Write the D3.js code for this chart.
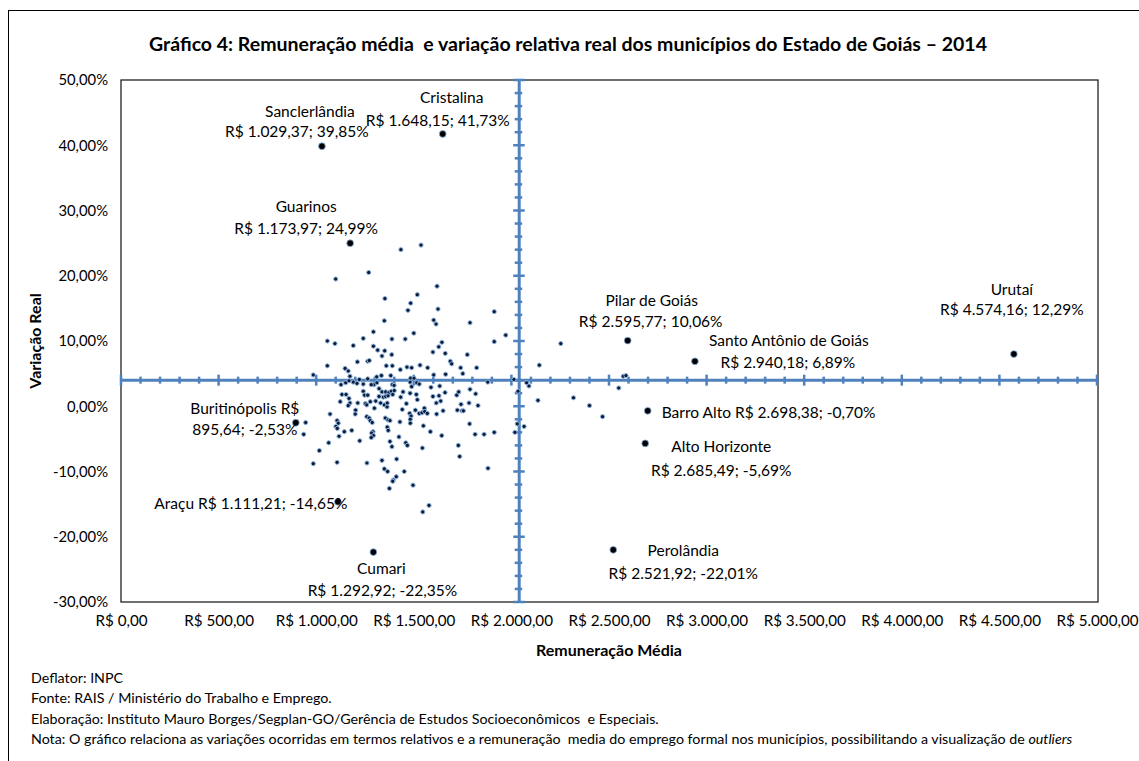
<!DOCTYPE html>
<html>
<head>
<meta charset="utf-8">
<script src="https://cdn.jsdelivr.net/npm/d3@7"></script>
<style>
  body { margin: 0; background: #fff; }
  svg text { font-family: Lato, "Open Sans", sans-serif; fill: #000; }
</style>
</head>
<body>
<script>
// municípios em destaque (com rótulo)
const destaqueNomes = ["Sanclerlândia", "Cristalina", "Guarinos", "Buritinópolis", "Araçu", "Cumari",
  "Pilar de Goiás", "Santo Antônio de Goiás", "Barro Alto", "Alto Horizonte", "Perolândia", "Urutaí"];
const destaqueRemun = [1029.37, 1648.15, 1173.97, 895.64, 1111.21, 1292.92,
  2595.77, 2940.18, 2698.38, 2685.49, 2521.92, 4574.16];
const destaqueVar = [39.85, 41.73, 24.99, -2.53, -14.65, -22.35,
  10.06, 6.89, -0.70, -5.69, -22.01, 8.0];
const destaqueRotulos = [
  ["Sanclerlândia", "R$ 1.029,37; 39,85%"],
  ["Cristalina", "R$ 1.648,15; 41,73%"],
  ["Guarinos", "R$ 1.173,97; 24,99%"],
  ["Buritinópolis R$", "895,64; -2,53%"],
  ["Araçu R$ 1.111,21; -14,65%"],
  ["Cumari", "R$ 1.292,92; -22,35%"],
  ["Pilar de Goiás", "R$ 2.595,77; 10,06%"],
  ["Santo Antônio de Goiás", "R$ 2.940,18; 6,89%"],
  ["Barro Alto R$ 2.698,38; -0,70%"],
  ["Alto Horizonte", "R$ 2.685,49; -5,69%"],
  ["Perolândia", "R$ 2.521,92; -22,01%"],
  ["Urutaí", "R$ 4.574,16; 12,29%"]
];

// demais municípios
const remun = [1269, 1100, 1293, 1057, 1096, 1190, 1241, 1293, 1315, 1057, 1148, 1211, 1264, 1272,
  1537, 1434, 1619, 1352, 1518, 1484, 1470, 1624, 1349, 1602, 1614, 1912, 1788, 1971, 1500, 1388,
  1456, 1644, 1912, 1628, 1351, 1337, 1387, 1598, 1661, 1774, 1687, 1694, 1359, 1390, 1532, 1465,
  1489, 1571, 1740, 1822, 1431, 985, 1164, 1173, 1221, 1264, 1310, 1127, 1151, 1168, 1190, 1209,
  1241, 1296, 1311, 1132, 1153, 1241, 1248, 1264, 1123, 1168, 1173, 1164, 1213, 1252, 1259, 1277,
  1305, 1298, 1202, 1200, 1259, 1271, 1277, 1287, 1071, 1107, 1113, 946, 936, 1101, 1108, 1144,
  1117, 1182, 1291, 1284, 1293, 1282, 1223, 1064, 1016, 985, 1107, 1260, 1334, 1382, 1484, 1501,
  1602, 1663, 1751, 1879, 2013, 1282, 1390, 1399, 1481, 1515, 1528, 1322, 1337, 1356, 1373, 1385,
  1400, 1445, 1481, 1489, 1588, 1633, 1660, 1720, 1730, 1788, 1817, 1322, 1344, 1356, 1368, 1392,
  1330, 1349, 1363, 1364, 1433, 1462, 1513, 1518, 1598, 1629, 1638, 1615, 1742, 1783, 1829, 1441,
  1479, 1486, 1482, 1508, 1528, 1542, 1554, 1556, 1569, 1617, 1650, 1723, 1747, 1754, 1354, 1368,
  1378, 1429, 1482, 1549, 1585, 1643, 1786, 1814, 1860, 1912, 1364, 1369, 1424, 1378, 1388, 1459,
  1467, 1544, 1728, 1735, 1412, 1337, 1349, 1366, 1451, 1880, 1410, 1395, 1392, 1375, 1496, 1578,
  1546, 2253, 2143, 2078, 2090, 2034, 2136, 2318, 2400, 2467, 2550, 2573, 2587, 2030, 2065, 2018];
const variacao = [20.5, 19.5, 11.4, 10.0, 9.6, 9.3, 10.4, 9.2, 8.6, 6.2, 5.8, 6.8, 6.9, 7.0,
  24.7, 24.0, 18.4, 16.5, 17.1, 15.8, 14.7, 14.9, 13.1, 13.2, 12.6, 14.5, 12.8, 10.9, 11.2, 10.3,
  10.3, 9.8, 9.9, 9.1, 8.5, 7.7, 7.9, 8.3, 8.1, 7.9, 6.9, 6.5, 6.2, 6.2, 6.3, 6.0,
  5.9, 5.9, 5.9, 5.9, 5.6, 4.8, 5.4, 4.6, 4.1, 4.2, 4.5, 3.3, 3.6, 3.9, 3.7, 3.5,
  3.4, 3.3, 3.6, 1.8, 1.8, 2.3, 1.7, 1.7, 0.7, 1.2, 0.5, 0.1, 0.5, 0.4, 0.2, 0.7,
  0.8, -0.3, -0.6, -1.2, -1.6, -1.8, -2.2, -2.5, -1.2, -2.2, -2.6, -2.5, -4.3, -3.1, -3.4, -3.9,
  -4.6, -3.7, -3.9, -4.1, -4.5, -4.8, -5.3, -5.6, -6.8, -8.8, -8.6, -8.7, 4.7, 4.7, 4.3, 4.3,
  4.8, 4.9, 5.0, 3.7, 4.1, 3.3, 3.3, 3.2, 3.7, 3.6, 3.4, 2.7, 2.2, 2.2, 2.1, 2.3,
  2.4, 2.2, 2.0, 3.0, 2.9, 3.1, 2.1, 1.7, 2.2, 2.6, 1.9, 1.5, 1.4, 1.5, 1.6, 1.8,
  0.5, 0.2, -0.1, 0.5, 1.4, 0.4, 1.8, 1.0, 1.5, 1.6, 0.8, 0.5, 0.3, 0.5, 0.1, -0.5,
  -1.1, -1.5, -2.0, -0.6, -1.1, -1.0, -0.3, -0.8, -1.1, -1.2, -0.7, -0.6, -0.7, -0.7, -1.8, -2.1,
  -2.2, -2.4, -2.6, -3.0, -3.9, -4.5, -2.7, -4.3, -4.3, -4.0, -3.2, -3.7, -4.7, -5.4, -6.2, -5.6,
  -6.0, -6.4, -6.0, -7.7, -8.1, -8.3, -9.6, -10.0, -10.0, -9.5, -10.8, -11.3, -11.5, -12.6, -12.1, -15.2,
  -16.2, 9.6, 6.3, 3.6, 3.1, 2.3, 0.9, 1.3, 0.1, -1.6, 2.8, 4.6, 4.7, -2.7, -3.1, -4.0];

// cruzamento dos eixos (médias)
const cruzaRemun = 2040;
const cruzaVar = 4.0;

const xTicks = d3.range(0, 5001, 500);
const yTicks = d3.range(-30, 51, 10);

const notas = [
  "Deflator: INPC",
  "Fonte: RAIS / Ministério do Trabalho e Emprego.",
  "Elaboração: Instituto Mauro Borges/Segplan-GO/Gerência de Estudos Socioeconômicos  e Especiais.",
  "Nota: O gráfico relaciona as variações ocorridas em termos relativos e a remuneração  media do emprego formal nos municípios, possibilitando a visualização de "
];

// posição dos rótulos (dx, dy de cada linha, relativo ao ponto)
const rotuloPos = [
  [[-12, -35], [-25, -15]],
  [[9, -36], [-5, -13]],
  [[-44, -37], [-44, -15]],
  [[-51, -14], [-51, 7]],
  [[-87, 2]],
  [[8, 16], [9, 38]],
  [[24, -40], [23, -19]],
  [[94, -21], [93, 1]],
  [[14, 2, "start"]],
  [[76, 3], [76, 27]],
  [[70, 1], [70, 24]],
  [[-2, -64], [-2, -44]]
];

const W = 1139, H = 761;
const plot = {left: 121, top: 80, right: 1097, bottom: 602};

const locale = d3.formatLocale({decimal: ",", thousands: ".", grouping: [3], currency: ["R$ ", ""], minus: "-"});
const fmtReal = locale.format("$,.2f");
const fmtPct = d => locale.format(".2f")(d) + "%";

const svg = d3.select("body").append("svg")
    .attr("width", W)
    .attr("height", H);

// moldura externa
svg.append("rect")
    .attr("x", 8.5).attr("y", 10.5)
    .attr("width", 1200).attr("height", 900)
    .attr("fill", "none").attr("stroke", "#000").attr("stroke-width", 1);

let x = d3.scaleLinear().domain([0, 5000]).range([plot.left, plot.right]);
let y = d3.scaleLinear().domain([-30, 50]).range([plot.bottom, plot.top]);

// título
svg.append("text")
    .attr("x", 568).attr("y", 51)
    .attr("text-anchor", "middle")
    .attr("xml:space", "preserve")
    .style("font-size", "19.5px").style("font-weight", "bold")
    .text("Gráfico 4: Remuneração média  e variação relativa real dos municípios do Estado de Goiás – 2014");

// área do gráfico
svg.append("rect")
    .attr("x", plot.left).attr("y", plot.top)
    .attr("width", plot.right - plot.left + 1).attr("height", plot.bottom - plot.top)
    .attr("fill", "none").attr("stroke", "#222").attr("stroke-width", 1.3);

// rótulos eixo x (embaixo)
let xAxis = svg.append("g")
    .attr("transform", "translate(0," + plot.bottom + ")")
    .call(d3.axisBottom(x).tickValues(xTicks).tickFormat(fmtReal).tickSize(0).tickPadding(13));
xAxis.select(".domain").remove();
xAxis.selectAll("text").style("font-size", "15.2px").style("font-family", "Lato, sans-serif").attr("fill", "#000");

// rótulos eixo y (esquerda)
let yAxis = svg.append("g")
    .attr("transform", "translate(" + plot.left + ",0)")
    .call(d3.axisLeft(y).tickValues(yTicks).tickFormat(fmtPct).tickSize(0).tickPadding(13));
yAxis.select(".domain").remove();
yAxis.selectAll("text").style("font-size", "14.8px").style("font-family", "Lato, sans-serif").attr("fill", "#000");

// eixos cruzados
const azul = "#4f81bd";
let hAxis = svg.append("g");
hAxis.append("line")
    .attr("x1", plot.left).attr("x2", plot.right)
    .attr("y1", y(cruzaVar)).attr("y2", y(cruzaVar))
    .attr("stroke", azul).attr("stroke-width", 3);
hAxis.selectAll(".tk")
    .data(d3.range(0, 5001, 100))
    .enter().append("line")
    .attr("x1", d => x(d)).attr("x2", d => x(d))
    .attr("y1", d => y(cruzaVar) - (d % 500 === 0 ? 5.5 : 3.5))
    .attr("y2", d => y(cruzaVar) + (d % 500 === 0 ? 5.5 : 3.5))
    .attr("stroke", azul).attr("stroke-width", 2.5);

let vAxis = svg.append("g");
vAxis.append("line")
    .attr("x1", x(cruzaRemun)).attr("x2", x(cruzaRemun))
    .attr("y1", plot.top).attr("y2", plot.bottom)
    .attr("stroke", azul).attr("stroke-width", 3);
vAxis.selectAll(".tk")
    .data(d3.range(-30, 51, 2))
    .enter().append("line")
    .attr("x1", d => x(cruzaRemun) - (d % 10 === 0 ? 6 : 4.5))
    .attr("x2", d => x(cruzaRemun) + (d % 10 === 0 ? 5.5 : 3))
    .attr("y1", d => y(d)).attr("y2", d => y(d))
    .attr("stroke", azul).attr("stroke-width", 2.5);

// pontos
const pontos = remun.map((r, i) => ({r: r, v: variacao[i]}));
svg.append("g").selectAll("circle")
    .data(pontos)
    .enter().append("circle")
    .attr("cx", d => x(d.r))
    .attr("cy", d => y(d.v))
    .attr("r", 2.1)
    .attr("fill", "#0c1a33")
    .attr("stroke", "#8fb6e3")
    .attr("stroke-width", 1);

const destaques = destaqueNomes.map((n, i) => ({nome: n, r: destaqueRemun[i], v: destaqueVar[i], linhas: destaqueRotulos[i], pos: rotuloPos[i]}));
svg.append("g").selectAll("circle")
    .data(destaques)
    .enter().append("circle")
    .attr("cx", d => x(d.r))
    .attr("cy", d => y(d.v))
    .attr("r", 3.4)
    .attr("fill", "#000")
    .attr("stroke", "#8fb6e3")
    .attr("stroke-width", 0.8);

// rótulos dos destaques
destaques.forEach(function (d) {
    d.linhas.forEach(function (linha, j) {
        let p = d.pos[j];
        svg.append("text")
            .attr("x", x(d.r) + p[0])
            .attr("y", y(d.v) + p[1])
            .attr("dy", "0.35em")
            .attr("text-anchor", p[2] || "middle")
            .style("font-size", "15.5px")
            .text(linha);
    });
});

// títulos dos eixos
svg.append("text")
    .attr("x", (plot.left + plot.right) / 2).attr("y", 656)
    .attr("text-anchor", "middle")
    .style("font-size", "16px").style("font-weight", "bold")
    .text("Remuneração Média");

svg.append("text")
    .attr("transform", "translate(41," + (plot.top + plot.bottom) / 2 + ") rotate(-90)")
    .attr("text-anchor", "middle")
    .style("font-size", "16px").style("font-weight", "bold")
    .text("Variação Real");

// notas de rodapé
notas.forEach(function (n, i) {
    let t = svg.append("text")
        .attr("x", 31).attr("y", 683 + i * 20.3)
        .attr("xml:space", "preserve")
        .style("font-size", "14.25px")
        .text(n);
    if (i === notas.length - 1) {
        t.append("tspan").style("font-style", "italic").text("outliers");
    }
});
</script>
</body>
</html>
